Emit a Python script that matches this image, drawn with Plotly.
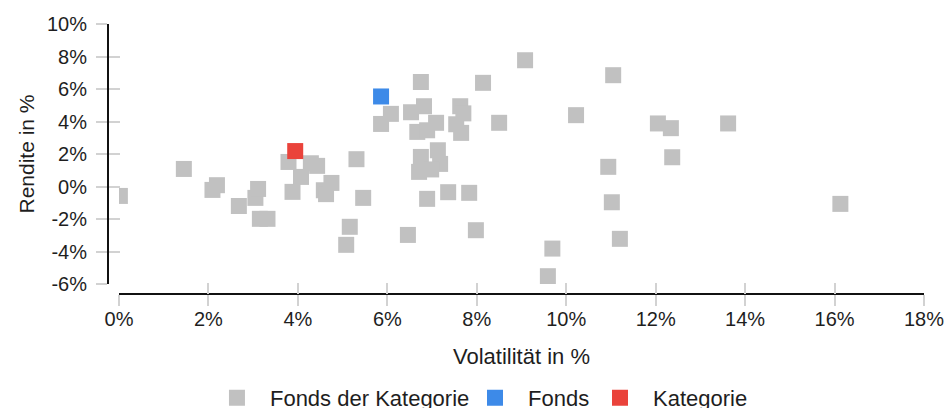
import plotly.graph_objects as go

# Fonds der Kategorie (volatility %, return %)
cat_vol = [0.02, 1.45, 2.09, 2.19, 2.68, 3.05, 3.11, 3.15, 3.32, 3.79, 3.88, 4.07, 4.29, 4.43,
           4.58, 4.63, 4.75, 5.31, 5.46, 5.16, 5.08, 6.08, 5.86, 6.46, 6.53, 6.75, 6.82, 6.67,
           6.89, 7.09, 7.63, 7.70, 7.54, 7.65, 8.14, 8.50, 9.08, 10.22, 11.05, 12.05, 12.34,
           12.37, 13.62, 10.94, 11.02, 11.20, 9.69, 9.59, 7.98, 6.89, 7.36, 7.83, 6.75, 7.13,
           7.18, 6.71, 6.98, 16.13]
cat_ret = [-0.58, 1.08, -0.21, 0.08, -1.20, -0.70, -0.15, -1.99, -1.99, 1.51, -0.33, 0.59, 1.43, 1.27,
           -0.23, -0.47, 0.22, 1.68, -0.70, -2.48, -3.59, 4.47, 3.85, -2.98, 4.57, 6.43, 4.94, 3.36,
           3.46, 3.92, 4.94, 4.50, 3.83, 3.30, 6.38, 3.92, 7.77, 4.39, 6.85, 3.88, 3.59,
           1.80, 3.88, 1.21, -0.97, -3.22, -3.82, -5.52, -2.69, -0.76, -0.35, -0.39, 1.82, 2.23,
           1.39, 0.90, 1.05, -1.07]

fonds_vol = [5.86]
fonds_ret = [5.54]

kat_vol = [3.94]
kat_ret = [2.18]

x_ticks = [0, 2, 4, 6, 8, 10, 12, 14, 16, 18]
y_ticks = [-6, -4, -2, 0, 2, 4, 6, 8, 10]

FONT = "Liberation Sans, Arial, Helvetica, sans-serif"
TICKC = "#d2d2d2"

fig = go.Figure()
fig.add_trace(go.Scatter(x=cat_vol, y=cat_ret, mode="markers", name="Fonds der Kategorie",
                         legend="legend",
                         marker=dict(symbol="square", size=16, color="#c1c1c1")))
fig.add_trace(go.Scatter(x=fonds_vol, y=fonds_ret, mode="markers", name="Fonds",
                         legend="legend2",
                         marker=dict(symbol="square", size=16, color="#3d8ae8")))
fig.add_trace(go.Scatter(x=kat_vol, y=kat_ret, mode="markers", name="Kategorie",
                         legend="legend3",
                         marker=dict(symbol="square", size=16, color="#ea433b")))
# helper trace for inner tick overlay axes
fig.add_trace(go.Scatter(x=[], y=[], xaxis="x2", yaxis="y2", showlegend=False, hoverinfo="skip"))

xdom = [11 / 816, 1]
ydom = [10 / 270, 1]

common_x = dict(range=[0, 18], domain=xdom, anchor="free", position=0, automargin=False,
                tickvals=x_ticks, showgrid=False, zeroline=False)
common_y = dict(range=[-6, 10], domain=ydom, anchor="free", position=0, automargin=False,
                tickvals=y_ticks, showgrid=False, zeroline=False)

leg_common = dict(orientation="h", xanchor="left", y=-0.385, yanchor="middle",
                  font=dict(size=22), itemclick=False, itemdoubleclick=False,
                  itemwidth=56, bgcolor="rgba(0,0,0,0)")

fig.update_layout(
    width=945, height=408,
    margin=dict(l=108, r=21, t=24, b=114, pad=0, autoexpand=False),
    paper_bgcolor="white", plot_bgcolor="white",
    font=dict(family=FONT, size=20, color="#1e1e1e"),
    xaxis=dict(**common_x, ticktext=[f"{v}%" for v in x_ticks], ticks="outside", ticklen=11,
               tickwidth=2, tickcolor=TICKC, showline=True, linecolor="#111111", linewidth=2,
               tickfont=dict(size=20), ticklabelstandoff=-4,
               title=dict(text="Volatilität in %", font=dict(size=22), standoff=19)),
    yaxis=dict(**common_y, ticktext=[f"{v}%" for v in y_ticks], ticks="outside", ticklen=11,
               tickwidth=2, tickcolor=TICKC, showline=True, linecolor="#111111", linewidth=2,
               tickfont=dict(size=20), ticklabelstandoff=5,
               title=dict(text="Rendite in %", font=dict(size=21), standoff=6)),
    xaxis2=dict(**common_x, overlaying="x", ticks="inside", ticklen=11, tickwidth=2,
                tickcolor=TICKC, showticklabels=False, showline=False),
    yaxis2=dict(**common_y, overlaying="y", ticks="inside", ticklen=11, tickwidth=2,
                tickcolor=TICKC, showticklabels=False, showline=False),
    legend=dict(**leg_common, x=0.1176),
    legend2=dict(**leg_common, x=0.4338),
    legend3=dict(**leg_common, x=0.587),
    showlegend=True,
)

fig.write_html("out.html", config={"displayModeBar": False},
               post_script="document.body.style.margin='0';document.body.style.overflow='hidden';")
